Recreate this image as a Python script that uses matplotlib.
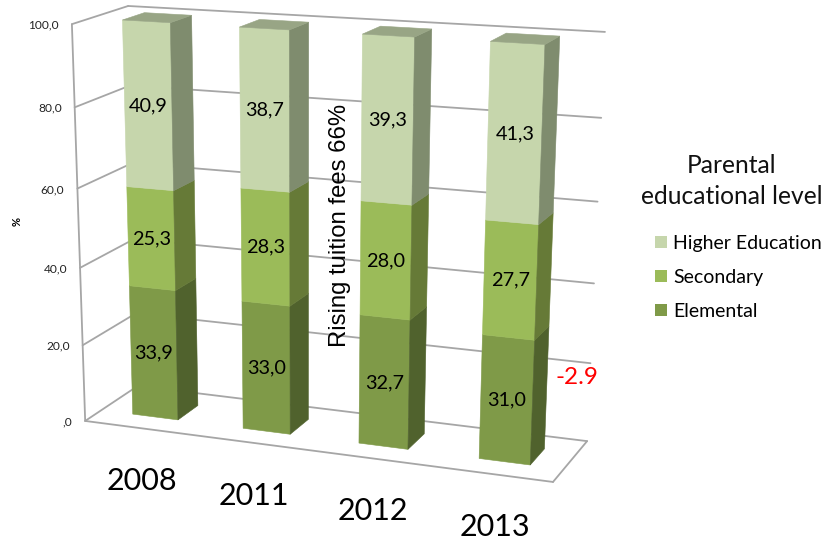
import numpy as np
import matplotlib
matplotlib.use("Agg")
import matplotlib.pyplot as plt
from matplotlib.patches import Patch, Polygon

# --- data ---
years = ["2008", "2011", "2012", "2013"]
elemental = [33.9, 33.0, 32.7, 31.0]
secondary = [25.3, 28.3, 28.0, 27.7]
higher = [40.9, 38.7, 39.3, 41.3]
value_ticks = [0, 20, 40, 60, 80, 100]
tick_labels = [",0", "20,0", "40,0", "60,0", "80,0", "100,0"]
series_names = ["Higher Education", "Secondary", "Elemental"]
FACE = {"Higher Education": "#C6D6AC", "Secondary": "#9BBB59", "Elemental": "#7F9A48"}
SIDE = {"Higher Education": "#7F8C6E", "Secondary": "#667A37", "Elemental": "#50622D"}
TOP = "#98A585"
GRID = "#A6A6A6"
BODY_FONT = ["Lato", "DejaVu Sans"]

# --- perspective camera: (across, depth, value/100) -> figure pixels ---
world = [(0,0,0),(1,0,0),(1,1,0),(0,1,0),(0,0,1),(0,1,1),(1,1,1)]
pixel = [(86,422),(552,482),(588,441),(137,385),(72,23),(128,7),(605,32)]
A, b = [], []
for (X,Y,Z),(u,v) in zip(world,pixel):
    A.append([X,Y,Z,1,0,0,0,0,-u*X,-u*Y,-u*Z]); b.append(u)
    A.append([0,0,0,0,X,Y,Z,1,-v*X,-v*Y,-v*Z]); b.append(v)
h = np.linalg.lstsq(np.array(A,float),np.array(b,float),rcond=None)[0]
P = np.append(h,1.0).reshape(3,4)

def proj(x, y, value):
    q = P @ np.array([x, y, value/100.0, 1.0])
    return q[0]/q[2], q[1]/q[2]

fig = plt.figure(figsize=(8.28,5.43), dpi=100)
ax = fig.add_axes([0,0,1,1])
ax.set_xlim(0,828); ax.set_ylim(543,0); ax.axis("off")

def wall_line(p, q, **kw):
    ax.plot([p[0],q[0]],[p[1],q[1]],color=GRID,lw=1.3,solid_capstyle="round",zorder=1,**kw)

# walls, gridlines, floor
for t in value_ticks:
    wall_line(proj(0,0,t),proj(0,1,t))
    wall_line(proj(0,1,t),proj(1,1,t))
wall_line(proj(0,0,0),proj(0,0,100))
wall_line(proj(0,0,0),proj(1,0,0))
wall_line(proj(1,0,0),proj(1,1,0))

# tick labels
for t,lab in zip(value_ticks,tick_labels):
    u,v = proj(0,0,t)
    ax.text(u-13,v+1,lab,ha="right",va="center",fontsize=8.6,family=BODY_FONT,color="#222222")
ax.text(17,222,"%",rotation=90,ha="center",va="center",fontsize=8,fontweight="bold",family=BODY_FONT)

# bars
half = 0.052
y0,y1 = 0.30,0.70
series = [("Elemental",elemental),("Secondary",secondary),("Higher Education",higher)]
nudges = [0.0, 0.001, 0.004, 0.006]
centers = [(i+0.5)/len(years)+nudges[i] for i in range(len(years))]
for i,cx in enumerate(centers):
    xa,xb = cx-half,cx+half
    base = 0.0
    for name,vals in series:
        top = base+vals[i]
        ax.add_patch(Polygon([proj(xa,y0,base),proj(xb,y0,base),proj(xb,y0,top),proj(xa,y0,top)],
                             fc=FACE[name],ec=FACE[name],lw=0.4,zorder=3))
        ax.add_patch(Polygon([proj(xb,y0,base),proj(xb,y1,base),proj(xb,y1,top),proj(xb,y0,top)],
                             fc=SIDE[name],ec=SIDE[name],lw=0.4,zorder=3))
        u,v = proj(cx,y0,(base+top)/2)
        ax.text(u,v,f"{vals[i]:.1f}".replace(".",","),ha="center",va="center",
                fontsize=14.3,family=BODY_FONT,color="black",zorder=5)
        base = top
    ax.add_patch(Polygon([proj(xa,y0,base),proj(xb,y0,base),proj(xb,y1,base),proj(xa,y1,base)],
                         fc=TOP,ec=TOP,lw=0.4,zorder=3))
    u,v = proj(cx,0,0)
    ax.text(u+2,v+53,years[i],ha="center",va="center",fontsize=22,family=BODY_FONT,zorder=5)

# annotations
ax.text(340,225,"Rising tuition fees 66%",rotation=90,ha="center",va="center",
        fontsize=17.2,family="Liberation Sans",zorder=6)
ax.text(577,378,"-2.9",color="red",ha="center",va="center",fontsize=17.5,family=BODY_FONT,zorder=6)
ax.text(732,181,"Parental\neducational level",ha="center",va="center",fontsize=17.7,
        family=BODY_FONT,linespacing=1.45,color="#111111")
handles = [Patch(fc=FACE[n],ec="none",label=n) for n in series_names]
leg = ax.legend(handles=handles,loc="upper left",bbox_to_anchor=(655/828,1-235/543),frameon=False,
                handlelength=0.62,handleheight=0.62,handletextpad=0.32,labelspacing=0.87,
                borderpad=0,borderaxespad=0,prop={"family":BODY_FONT,"size":14})
fig.savefig("out.png",dpi=100)
